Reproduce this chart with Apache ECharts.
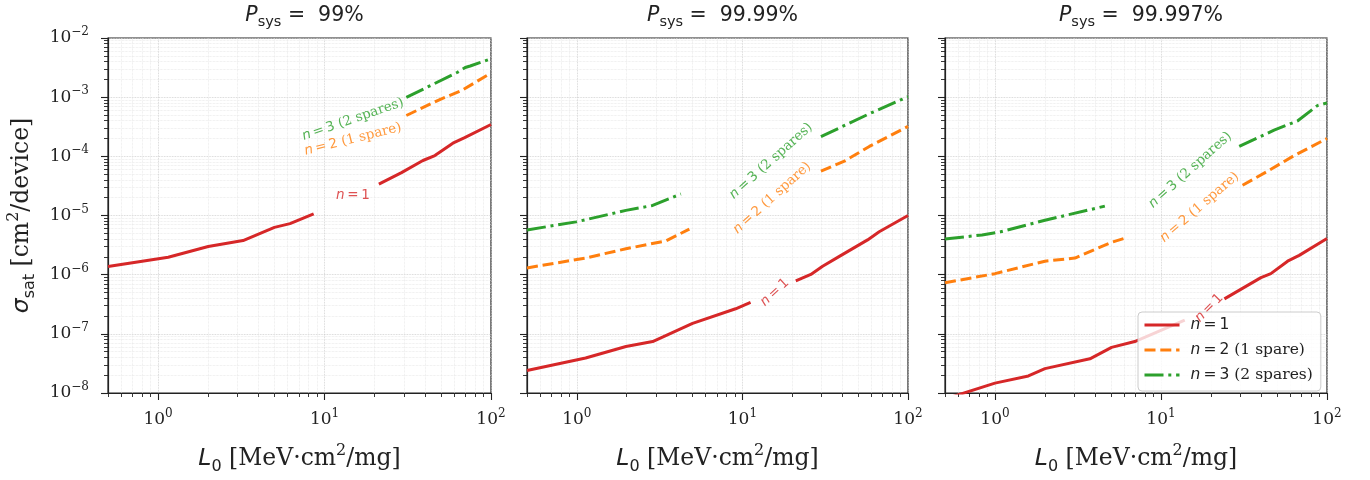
<!DOCTYPE html>
<html><head><meta charset="utf-8">
<script src="https://cdn.jsdelivr.net/npm/echarts@6/dist/echarts.min.js"></script>
<style>html,body{margin:0;padding:0;background:#fff}#c{width:1370px;height:480px}</style>
</head><body><div id="c"></div>
<script>
// ---------------- data ----------------
const titleValues = ['99%', '99.99%', '99.997%'];
const xMajorTicks = [1, 10, 100];
const xMinorTicks = [0.5, 0.6, 0.7, 0.8, 0.9, 2, 3, 4, 5, 6, 7, 8, 9, 20, 30, 40, 50, 60, 70, 80, 90];
const yMajorTicks = [1e-8, 1e-7, 1e-6, 1e-5, 1e-4, 1e-3, 1e-2];
const yMinorMantissas = [2, 3, 4, 5, 6, 7, 8, 9];
const legendNames = ['n1', 'n2', 'n3'];

// P = 99%
const L99_n1 = [0.5, 1.15, 2.0, 3.24, 5.0, 6.2, 8.6, 13, 21.2, 29, 39, 46, 59, 69.5, 100];
const S99_n1 = [1.37e-6, 1.97e-6, 3.0e-6, 3.77e-6, 6.3e-6, 7.3e-6, 1.07e-5, null, 3.38e-5, 5.3e-5, 8.5e-5, 1.03e-4, 1.67e-4, 2.07e-4, 3.45e-4];
const L99_n2 = [31, 50, 66, 100];
const S99_n2 = [4.9e-4, 9.3e-4, 1.28e-3, 2.55e-3];
const L99_n3 = [31, 63, 70, 75, 100];
const S99_n3 = [9.9e-4, 2.64e-3, 3.17e-3, 3.36e-3, 4.45e-3];

// P = 99.99%
const L9999_n1 = [0.5, 1.13, 1.98, 2.87, 5.0, 9.1, 11.2, 15, 21, 25.9, 30.5, 38.5, 57, 67, 100];
const S9999_n1 = [2.4e-8, 3.9e-8, 6.1e-8, 7.4e-8, 1.5e-7, 2.65e-7, 3.4e-7, null, 7.85e-7, 1.01e-6, 1.39e-6, 2.04e-6, 3.87e-6, 5.3e-6, 1.0e-5];
const L9999_n2 = [0.5, 1.13, 1.98, 3.45, 4.78, 10, 29.8, 41.3, 58.4, 100];
const S9999_n2 = [1.3e-6, 1.91e-6, 2.74e-6, 3.72e-6, 5.9e-6, null, 5.63e-5, 8.3e-5, 1.47e-4, 3.2e-4];
const L9999_n3 = [0.5, 0.99, 1.98, 2.87, 4.25, 10, 29.8, 58.4, 100];
const S9999_n3 = [5.7e-6, 7.8e-6, 1.22e-5, 1.48e-5, 2.31e-5, null, 2.15e-4, 5.25e-4, 1.02e-3];

// P = 99.997%
const L99997_n1 = [0.5, 1.0, 1.59, 2.0, 3.73, 5.04, 6.95, 13.9, 18, 24.1, 40, 45.9, 57.9, 68, 100];
const S99997_n1 = [7.9e-9, 1.47e-8, 1.94e-8, 2.58e-8, 3.78e-8, 5.9e-8, 7.4e-8, 1.7e-7, null, 3.9e-7, 8.9e-7, 1.04e-6, 1.69e-6, 2.12e-6, 4.1e-6];
const L99997_n2 = [0.5, 1.0, 2.0, 3.03, 5.04, 6.2, 12, 31, 42.9, 63.4, 100];
const S99997_n2 = [7.3e-7, 1.04e-6, 1.69e-6, 1.91e-6, 3.53e-6, 4.23e-6, null, 3.25e-5, 5.4e-5, 1.03e-4, 2.0e-4];
const L99997_n3 = [0.5, 0.836, 1.08, 2.0, 4.59, 10, 29.6, 48, 66.4, 87.5, 100];
const S99997_n3 = [4.0e-6, 4.69e-6, 5.3e-6, 8.3e-6, 1.44e-5, null, 1.47e-4, 2.77e-4, 3.96e-4, 7.2e-4, 8.0e-4];

// inline label anchors [L, sigma] and angles per panel (n=1, n=2, n=3)
const labelL = [[14.8, 14.8, 14.8], [15.7, 15.1, 14.9], [19.5, 17.1, 15.0]];
const labelS = [[2.16e-5, 1.94e-4, 4.2e-4], [5.0e-7, 1.98e-5, 8.3e-5], [2.74e-7, 1.38e-5, 5.86e-5]];
const labelAngle = [[0, 14, 19], [43, 42, 42], [45, 41, 42]];
const labelText = ['{i|n}{s|\u2009=\u20091}', '{i|n}{s|\u2009=\u20092}{r| (1 spare)}', '{i|n}{s|\u2009=\u20093}{r| (2 spares)}'];

const panelL = [[L99_n1, L99_n2, L99_n3], [L9999_n1, L9999_n2, L9999_n3], [L99997_n1, L99997_n2, L99997_n3]];
const panelS = [[S99_n1, S99_n2, S99_n3], [S9999_n1, S9999_n2, S9999_n3], [S99997_n1, S99997_n2, S99997_n3]];

// ---------------- styling ----------------
const colors = ['#d62728', '#ff7f0e', '#2ca02c'];
const dashes = ['solid', [11, 4.8], [19, 4.8, 3, 4.8]];
const gridLeft = [108, 527, 945];
const gridWidth = [383, 381, 382];
const gridTop = 38, gridHeight = 361;
const ink = '#222';

const yMinorTicks = [];
yMajorTicks.slice(0, -1).forEach(d => yMinorMantissas.forEach(m => yMinorTicks.push(+(m * d).toPrecision(3))));

function tickFmt(v) {
  const e = Math.round(Math.log10(v));
  const es = e < 0 ? '\u2212' + (-e) : '' + e;
  return '{b|10}{p|' + es + '}';
}
const tickRich = {
  b: {fontFamily: 'DejaVu Serif', fontSize: 17, lineHeight: 24, color: ink},
  p: {fontFamily: 'DejaVu Serif', fontSize: 12, lineHeight: 12, verticalAlign: 'top', color: ink}
};
const NF = 23.5, NS = 16;
const nameRich = {
  i: {fontFamily: 'DejaVu Sans', fontStyle: 'italic', fontSize: NF, lineHeight: 32, color: ink},
  r: {fontFamily: 'DejaVu Serif', fontSize: NF, lineHeight: 32, color: ink},
  sub: {fontFamily: 'DejaVu Sans', fontSize: NS, lineHeight: 16, verticalAlign: 'bottom', color: ink},
  sup: {fontFamily: 'DejaVu Serif', fontSize: NS, lineHeight: 16, verticalAlign: 'top', color: ink}
};
function labelRich(c, fs, lh) {
  return {
    i: {fontFamily: 'DejaVu Sans', fontStyle: 'italic', fontSize: fs, lineHeight: lh, color: c},
    s: {fontFamily: 'DejaVu Sans', fontSize: fs, lineHeight: lh, color: c},
    r: {fontFamily: 'DejaVu Serif', fontSize: fs, lineHeight: lh, color: c}
  };
}

const grid = [], xAxis = [], yAxis = [], title = [], series = [];
for (let p = 0; p < 3; p++) {
  grid.push({left: gridLeft[p], top: gridTop, width: gridWidth[p], height: gridHeight,
    show: true, borderColor: ink, borderWidth: 1.2, backgroundColor: 'transparent'});
  title.push({
    text: '{i|P}{sub|sys}{s| =  ' + titleValues[p] + '}',
    left: gridLeft[p] + gridWidth[p] / 2, top: -3, textAlign: 'center',
    textStyle: {fontWeight: 'normal', rich: {
      i: {fontFamily: 'DejaVu Sans', fontStyle: 'italic', fontWeight: 'normal', fontSize: 20.5, lineHeight: 28, color: ink},
      s: {fontFamily: 'DejaVu Sans', fontWeight: 'normal', fontSize: 20.5, lineHeight: 28, color: ink},
      sub: {fontFamily: 'DejaVu Sans', fontWeight: 'normal', fontSize: 14.5, lineHeight: 14, verticalAlign: 'bottom', color: ink}
    }}
  });
  // major x
  xAxis.push({
    type: 'log', logBase: 10, gridIndex: p, min: 0.5, max: 100, position: 'bottom',
    axisLine: {show: true, onZero: false, lineStyle: {color: ink, width: 1.2}},
    axisTick: {show: true, customValues: xMajorTicks, length: 7, lineStyle: {color: ink, width: 1.1}},
    axisLabel: {show: true, customValues: xMajorTicks, formatter: tickFmt, rich: tickRich, margin: 15},
    splitLine: {show: true, lineStyle: {color: '#cccccc', width: 0.8, type: 'dotted'}},
    name: '{i|L}{sub|0}{r| [MeV\u00b7cm}{sup|2}{r|/mg]}',
    nameLocation: 'middle', nameGap: 50, nameTextStyle: {rich: nameRich}
  });
  // minor x
  xAxis.push({
    type: 'log', logBase: 10, gridIndex: p, min: 0.5, max: 100, position: 'bottom',
    axisLine: {show: false, onZero: false},
    axisTick: {show: true, customValues: xMinorTicks, length: 4, lineStyle: {color: ink, width: 0.9}},
    axisLabel: {show: false},
    splitLine: {show: true, lineStyle: {color: '#e4e4e4', width: 0.7, type: 'dotted'}}
  });
  // major y
  yAxis.push({
    type: 'log', logBase: 10, gridIndex: p, min: 1e-8, max: 1e-2, position: 'left',
    axisLine: {show: true, onZero: false, lineStyle: {color: ink, width: 1.2}},
    axisTick: {show: true, customValues: yMajorTicks, length: 7, lineStyle: {color: ink, width: 1.1}},
    axisLabel: {show: p === 0, customValues: yMajorTicks, formatter: tickFmt, rich: tickRich, margin: 19},
    splitLine: {show: true, lineStyle: {color: '#cccccc', width: 0.8, type: 'dotted'}},
    name: p === 0 ? '{i|\u03c3}{sub|sat}{r| [cm}{sup|2}{r|/device]}' : '',
    nameLocation: 'middle', nameGap: 70, nameRotate: 90, nameTextStyle: {rich: nameRich}
  });
  // minor y
  yAxis.push({
    type: 'log', logBase: 10, gridIndex: p, min: 1e-8, max: 1e-2, position: 'left',
    axisLine: {show: false, onZero: false},
    axisTick: {show: true, customValues: yMinorTicks, length: 4, lineStyle: {color: ink, width: 0.9}},
    axisLabel: {show: false},
    splitLine: {show: true, lineStyle: {color: '#e4e4e4', width: 0.7, type: 'dotted'}}
  });
  for (let k = 0; k < 3; k++) {
    const xs = panelL[p][k], ys = panelS[p][k];
    series.push({
      type: 'line', name: legendNames[k], xAxisIndex: 2 * p, yAxisIndex: 2 * p,
      data: xs.map((x, j) => [x, ys[j] === null ? '-' : ys[j]]),
      symbol: 'none', showSymbol: false, connectNulls: false, smooth: false,
      lineStyle: {color: colors[k], width: 3, type: dashes[k], cap: 'butt'},
      itemStyle: {color: colors[k]},
      z: 2, silent: true
    });
  }
  series.push({
    type: 'scatter', name: 'labels' + p, xAxisIndex: 2 * p, yAxisIndex: 2 * p,
    symbolSize: 0, itemStyle: {color: 'rgba(0,0,0,0)'}, silent: true, z: 5,
    data: [0, 1, 2].map(k => ({
      value: [labelL[p][k], labelS[p][k]],
      label: {show: true, position: 'inside', rotate: labelAngle[p][k], color: colors[k],
        align: 'center', verticalAlign: 'middle',
        formatter: labelText[k], rich: labelRich(colors[k], 13.5, 16)}
    }))
  });
}

const chart = echarts.init(document.getElementById('c'), null, {renderer: 'canvas'});
chart.setOption({
  animation: false,
  backgroundColor: '#fff',
  title: title,
  grid: grid, xAxis: xAxis, yAxis: yAxis, series: series,
  legend: {
    data: legendNames, orient: 'vertical', left: 1138, top: 312,
    itemWidth: 35, itemHeight: 14, itemGap: 9,
    padding: [5, 8, 8, 5],
    backgroundColor: 'rgba(255,255,255,0.8)', borderColor: '#cccccc', borderWidth: 1, borderRadius: 4,
    selectedMode: false,
    itemStyle: {opacity: 0},
    lineStyle: {width: 3},
    formatter: function (n) { return labelText[legendNames.indexOf(n)]; },
    textStyle: {padding: [0, 0, 0, 6], rich: labelRich(ink, 15.5, 18)}
  }
});
</script>
</body></html>
